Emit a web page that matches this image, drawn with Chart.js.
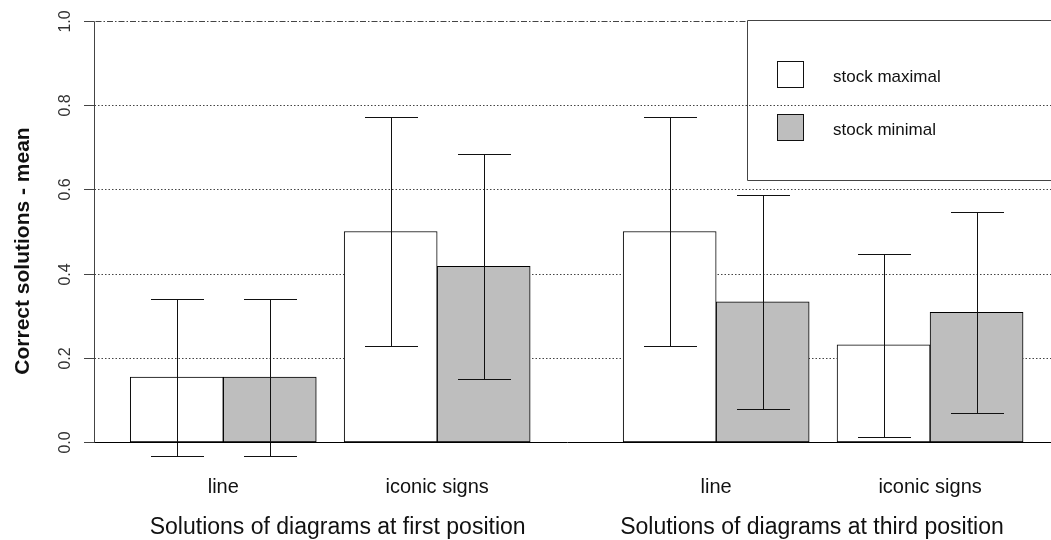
<!DOCTYPE html>
<html>
<head>
<meta charset="utf-8">
<script src="https://cdn.jsdelivr.net/npm/chart.js@4.4.0/dist/chart.umd.min.js"></script>
<style>
  html, body { margin: 0; background: #fff; }
  #wrap { width: 1051px; height: 540px; }
</style>
</head>
<body>
<div id="wrap"><canvas id="chart" width="1051" height="540"></canvas></div>
<script>
// --- data ---
const categories = ['line', 'iconic signs', 'line', 'iconic signs'];
const positionTitles = ['Solutions of diagrams at first position', 'Solutions of diagrams at third position'];
const seriesNames = ['stock maximal', 'stock minimal'];
const maxMeans = [0.154, 0.5, 0.5, 0.231];
const maxLower = [-0.033, 0.227, 0.227, 0.013];
const maxUpper = [0.340, 0.773, 0.773, 0.447];
const minMeans = [0.154, 0.417, 0.333, 0.308];
const minLower = [-0.033, 0.150, 0.079, 0.070];
const minUpper = [0.340, 0.684, 0.587, 0.546];
const yTicks = [0, 0.2, 0.4, 0.6, 0.8, 1.0];
const yTitle = 'Correct solutions - mean';

// --- layout (bar widths as x units) ---
const FONT = '"Liberation Sans", Arial, sans-serif';
const BAR_PX = 93;
const firstGroupStart = 0.39, pairGap = 0.3, positionGap = 1.0;
const groupCenters = [];
{
    let s = firstGroupStart;
    for (let i = 0; i < categories.length; i++) {
        groupCenters.push(s + 1);
        s += 2 + (i % 2 === 0 ? pairGap : positionGap);
    }
}
const titleCenters = [2.62, 7.72];

const toPoints = (vals) => vals.map((v, i) => ({ x: groupCenters[i], y: v }));

function seg(ctx, x1, y1, x2, y2) {
    ctx.beginPath(); ctx.moveTo(x1, y1); ctx.lineTo(x2, y2); ctx.stroke();
}

// R-style axes, grid, error bars and legend
const rPlot = {
    id: 'rPlot',
    beforeDatasetsDraw(chart) {
        const { ctx, chartArea: a, scales: { y } } = chart;
        ctx.save();
        ctx.strokeStyle = '#444';
        ctx.lineWidth = 1;
        ctx.setLineDash([1.5, 2]);
        yTicks.forEach(v => {
            if (v === 0 || v === 1) return;
            const py = Math.round(y.getPixelForValue(v)) + 0.5;
            seg(ctx, a.left - 10, py, a.right, py);
        });
        ctx.setLineDash([6, 2, 1.5, 2]);
        const top = Math.round(y.getPixelForValue(1)) + 0.5;
        seg(ctx, a.left - 10, top, 748, top);
        ctx.restore();
    },
    afterDatasetsDraw(chart) {
        const { ctx, chartArea: a, scales: { y } } = chart;
        ctx.save();
        ctx.lineWidth = 1;

        // error bars
        const lows = [maxLower, minLower], ups = [maxUpper, minUpper];
        ctx.strokeStyle = '#111';
        chart.data.datasets.forEach((ds, di) => {
            chart.getDatasetMeta(di).data.forEach((bar, i) => {
                const cx = Math.round(bar.x) + 0.5;
                const yl = Math.round(y.getPixelForValue(lows[di][i])) + 0.5;
                const yu = Math.round(y.getPixelForValue(ups[di][i])) + 0.5;
                seg(ctx, cx, yl, cx, yu);
                seg(ctx, cx - 26.5, yu, cx + 26.5, yu);
                seg(ctx, cx - 26.5, yl, cx + 26.5, yl);
            });
        });

        // baseline
        const y0 = Math.round(y.getPixelForValue(0)) + 0.5;
        ctx.strokeStyle = '#000';
        seg(ctx, a.left - 10, y0, a.right, y0);

        // y axis
        const ax = a.left + 0.5;
        ctx.strokeStyle = '#444';
        seg(ctx, ax, Math.round(y.getPixelForValue(1)) + 0.5, ax, y0);
        ctx.fillStyle = '#333';
        ctx.font = '16px ' + FONT;
        ctx.textAlign = 'center';
        ctx.textBaseline = 'alphabetic';
        yTicks.forEach(v => {
            const py = Math.round(y.getPixelForValue(v)) + 0.5;
            seg(ctx, a.left - 10, py, ax, py);
            ctx.save();
            ctx.translate(70, py);
            ctx.rotate(-Math.PI / 2);
            ctx.fillText(v.toFixed(1), 0, 0);
            ctx.restore();
        });

        // y title
        ctx.save();
        ctx.fillStyle = '#111';
        ctx.font = 'bold 21px ' + FONT;
        ctx.translate(29, 251);
        ctx.rotate(-Math.PI / 2);
        ctx.fillText(yTitle, 0, 0);
        ctx.restore();

        // x labels
        const x = chart.scales.x;
        ctx.fillStyle = '#111';
        ctx.font = '20px ' + FONT;
        categories.forEach((c, i) => ctx.fillText(c, x.getPixelForValue(groupCenters[i]), 493));
        ctx.font = '23px ' + FONT;
        positionTitles.forEach((t, i) => ctx.fillText(t, x.getPixelForValue(titleCenters[i]), 534));

        // legend
        ctx.strokeStyle = '#444';
        ctx.beginPath();
        ctx.moveTo(chart.width + 2, 20.5);
        ctx.lineTo(747.5, 20.5);
        ctx.lineTo(747.5, 180.5);
        ctx.lineTo(chart.width + 2, 180.5);
        ctx.stroke();
        const fills = chart.data.datasets.map(d => d.backgroundColor);
        ctx.font = '17px ' + FONT;
        ctx.textAlign = 'left';
        seriesNames.forEach((n, i) => {
            const top = 61.5 + i * 53;
            ctx.fillStyle = fills[i];
            ctx.fillRect(778, top, 25, 26);
            ctx.strokeStyle = '#111';
            ctx.strokeRect(777.5, top, 26, 26);
            ctx.fillStyle = '#111';
            ctx.fillText(n, 833, 82 + i * 53);
        });
        ctx.restore();
    }
};

new Chart(document.getElementById('chart'), {
    type: 'bar',
    data: {
        datasets: [
            { label: seriesNames[0], data: toPoints(maxMeans), backgroundColor: '#ffffff', borderColor: '#000', borderWidth: 1, borderSkipped: false, barThickness: BAR_PX },
            { label: seriesNames[1], data: toPoints(minMeans), backgroundColor: '#bebebe', borderColor: '#000', borderWidth: 1, borderSkipped: false, barThickness: BAR_PX }
        ]
    },
    options: {
        responsive: false,
        animation: false,
        layout: { padding: { left: 94, top: 21, right: 0, bottom: 98 } },
        plugins: { legend: { display: false }, tooltip: { enabled: false } },
        scales: {
            x: { type: 'linear', display: false, min: 0, max: 957 / BAR_PX, offset: false },
            y: { display: false, min: 0, max: 1 }
        }
    },
    plugins: [rPlot]
});
</script>
</body>
</html>
